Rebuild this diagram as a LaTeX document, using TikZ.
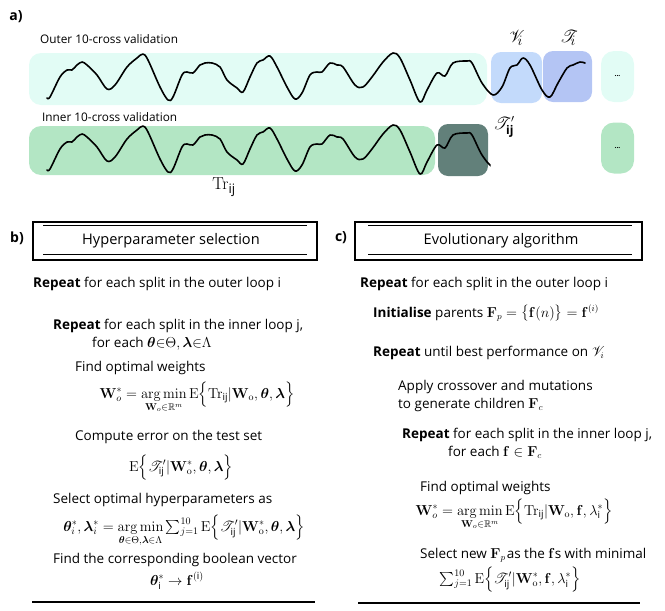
\documentclass[tikz,border=0pt]{standalone}
\usepackage{amsmath,amssymb,bm,mathrsfs}
\usepackage[no-math]{fontspec}
\setmainfont{Open Sans}
\definecolor{outercyan}{RGB}{226,252,245}
\definecolor{vblue}{RGB}{195,218,251}
\definecolor{tblue}{RGB}{180,197,244}
\definecolor{innergreen}{RGB}{179,230,196}
\definecolor{darkgreen}{RGB}{98,128,122}
\newcommand{\ijs}{\text{\normalfont ij}}
\begin{document}
\begin{tikzpicture}[x=1pt,y=-1pt,
  txt/.style={anchor=base west, inner sep=0pt, font=\fontsize{13.5}{15}\selectfont},
  eqn/.style={anchor=base, inner sep=0pt, font=\fontsize{14}{16}\selectfont},
  lbl/.style={inner sep=0pt, font=\fontsize{11.8}{14}\selectfont},
  panel/.style={inner sep=0pt, font=\fontsize{14}{16}\selectfont\bfseries},
  title/.style={inner sep=0pt, font=\fontsize{14.6}{16}\selectfont},
  dotbox/.style={minimum width=33pt, minimum height=51pt, rounded corners=13pt, inner sep=0pt, font=\fontsize{7}{8}\selectfont},
  wave/.style={line width=1.6pt, line join=round, line cap=round},
  frame/.style={line width=2pt},
  rule/.style={line width=1pt},
  bigmath/.style={inner sep=0pt, font=\fontsize{19}{21}\selectfont}
]
\useasboundingbox (0,0) rectangle (665,611);

% ---------- panel a ----------
\node[panel] (pa) at (16,17) {a)};
\node[lbl, anchor=west] (outerlbl) at (40,39) {Outer 10-cross validation};
\node[lbl, anchor=west] (innerlbl) at (42,117) {Inner 10-cross validation};

\fill[outercyan, rounded corners=12pt] (29,53) rectangle (487,105);
\fill[vblue, rounded corners=10pt] (491,52) rectangle (542,103);
\fill[tblue, rounded corners=10pt] (543,51) rectangle (592,102);
\node[dotbox, fill=outercyan] (dots1) at (617.5,76.5) {\textbf{...}};

\fill[innergreen, rounded corners=12pt] (29,126) rectangle (435,175);
\fill[darkgreen, rounded corners=10pt] (438,124) rectangle (488,176);
\node[dotbox, fill=innergreen] (dots2) at (617.5,148) {\textbf{...}};

\def\wavepts{(47,98) (50,97) (60,77) (67,70) (72,70) (77,65) (82,62) (87,65) (97,75) (107,89) (115,85) (127,67) (137,58) (143,54) (148,60) (160,87) (168,100) (173,97) (182,75) (187,72) (193,73) (200,65) (205,63) (212,63) (220,67) (227,80) (237,88) (243,92) (250,77) (257,63) (263,60) (270,56) (277,67) (287,87) (295,99) (302,93) (310,75) (317,72) (322,72) (330,63) (337,65) (343,67) (355,85) (363,87) (372,77) (383,62) (393,53) (400,58) (410,80) (420,102) (427,90) (437,73) (445,76) (453,63) (467,61) (472,63) (482,83) (493,95) (502,87) (510,68) (517,65) (523,58) (530,65) (542,90) (550,97) (558,83) (567,68) (573,65) (580,62) (585,63)}
\draw[wave] plot[smooth, tension=0.55] coordinates {\wavepts};
\begin{scope}
  \clip (20,110) rectangle (490.5,190);
  \draw[wave, shift={(0,72)}] plot[smooth, tension=0.55] coordinates {\wavepts};
\end{scope}

\node[bigmath] (vlab) at (516,38) {$\mathscr{V}_{\!i}$};
\node[bigmath] (tlab) at (568,38) {$\mathscr{T}_{\!i}$};
\node[bigmath, font=\fontsize{16}{18}\selectfont] (tplab) at (504,127) {$\mathscr{T}'_{\text{\bfseries\fontsize{12}{14}\selectfont ij}}$};
\node[inner sep=0pt, font=\fontsize{19}{22}\selectfont] (trlab) at (224,187) {$\mathrm{Tr}_{\text{\normalfont\fontsize{13}{15}\selectfont ij}}$};

% ---------- panel b ----------
\node[panel] (pb) at (17,238) {b)};
\draw[frame] (33,222) rectangle (317,260);
\draw[rule] (43,225) -- (307,225);
\draw[rule] (43,254) -- (307,254);
\node[title] (tb) at (171,241) {Hyperparameter selection};

\node[txt] (b1) at (33,287) {\textbf{Repeat} for each split in the outer loop i};
\node[txt] (b2) at (53,329) {\textbf{Repeat} for each split in the inner loop j,};
\node[txt] (b3) at (92,347) {for each $\bm{\theta}{\in}\Theta,\bm{\lambda}{\in}\Lambda$};
\node[txt] (b4) at (75,371) {Find optimal weights};
\node[eqn] (b5) at (197,398) {$\displaystyle\mathbf{W}_o^{*} = \operatorname*{arg\,min}_{\mathbf{W}_o\in\mathbb{R}^m} \mathrm{E}\Big\{\mathrm{Tr}_{\ijs}|\mathbf{W}_{\mathrm{o}}, \bm{\theta}, \bm{\lambda}\Big\}$};
\node[txt] (b6) at (75,440) {Compute error on the test set};
\node[eqn] (b7) at (181,471) {$\displaystyle\mathrm{E}\Big\{\mathscr{T}'_{\ijs}|\mathbf{W}^{*}_{\mathrm{o}}, \bm{\theta}, \bm{\lambda}\Big\}$};
\node[txt] (b8) at (53,503) {Select optimal hyperparameters as};
\node[eqn] (b9) at (184,531) {$\displaystyle\bm{\theta}_i^{*}, \bm{\lambda}_i^{*} = \operatorname*{arg\,min}_{\bm{\theta}\in\Theta,\bm{\lambda}\in\Lambda} \textstyle\sum_{j=1}^{10} \mathrm{E}\Big\{\mathscr{T}'_{\ijs}|\mathbf{W}^{*}_{\mathrm{o}}, \bm{\theta}, \bm{\lambda}\Big\}$};
\node[txt] (b10) at (53,563) {Find the corresponding boolean vector};
\node[eqn] (b11) at (177,585) {$\bm{\theta}_{\text{\normalfont i}}^{*} \rightarrow \mathbf{f}^{(\text{\normalfont i})}$};
\draw[frame] (32,602) -- (315,602);

% ---------- panel c ----------
\node[panel] (pc) at (341,238) {c)};
\draw[frame] (355,222) rectangle (642,260);
\draw[rule] (368,225) -- (632,225);
\draw[rule] (368,254) -- (632,254);
\node[title] (tc) at (501,241) {Evolutionary algorithm};

\node[txt] (c1) at (360,287) {\textbf{Repeat} for each split in the outer loop i};
\node[txt] (c2) at (373,317) {\textbf{Initialise} parents $\mathbf{F}_p = \big\{\mathbf{f}(n)\big\} = \mathbf{f}^{(i)}$};
\node[txt] (c3) at (373,356) {\textbf{Repeat} until best performance on $\mathscr{V}_i$};
\node[txt] (c4) at (398,390) {Apply crossover and mutations};
\node[txt] (c5) at (398,408) {to generate children $\mathbf{F}_c$};
\node[txt] (c6) at (402,438) {\textbf{Repeat} for each split in the inner loop j,};
\node[txt] (c7) at (448,456) {for each $\mathbf{f}\in\mathbf{F}_c$};
\node[txt] (c8) at (420,491) {Find optimal weights};
\node[eqn] (c9) at (514,515) {$\displaystyle\mathbf{W}_o^{*} = \operatorname*{arg\,min}_{\mathbf{W}_o\in\mathbb{R}^m} \mathrm{E}\Big\{\mathrm{Tr}_{\ijs}|\mathbf{W}_{\mathrm{o}}, \mathbf{f}, \lambda_{\text{\normalfont i}}^{*}\Big\}$};
\node[txt] (c10) at (420,558) {Select new $\mathbf{F}_p$\kern1pt as the $\mathbf{f}$s with minimal};
\node[eqn] (c11) at (510,583) {$\textstyle\sum_{j=1}^{10} \mathrm{E}\Big\{\mathscr{T}'_{\ijs}|\mathbf{W}^{*}_{\mathrm{o}}, \mathbf{f}, \lambda^{*}_{\text{\normalfont i}}\Big\}$};
\draw[frame] (358,603) -- (640,603);
\end{tikzpicture}
\end{document}
